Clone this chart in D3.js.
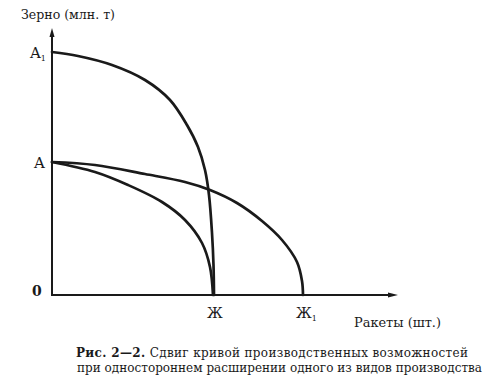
<!DOCTYPE html>
<html><head><meta charset="utf-8">
<script src="https://cdn.jsdelivr.net/npm/d3@7/dist/d3.min.js"></script>
<style>html,body{margin:0;padding:0;background:#fff}svg{display:block}</style>
</head><body>
<script>
// Data (abstract units: x = rockets, y = grain)
const curveA1Zh = [[0,243],[26,239],[60,230],[93,215],[118,195],[135,170],[146,148],[153,125],[157,100],[160,62],[161.5,30],[162,0]];
const curveAZh  = [[0,133],[43,123],[76,110],[110,93],[133,75],[150,52],[158,28],[161,0]];
const curveAZh1 = [[0,133],[43,130],[93,121],[133,113],[158,105],[185,92],[210,74],[230,55],[245,33],[250,14],[251,0]];
const yLabels = [{t:"A",s:"1",v:243},{t:"A",s:"",v:133}];
const xLabels = [{t:"Ж",s:"",v:162},{t:"Ж",s:"1",v:251}];
const yTitle = "Зерно (млн. т)";
const xTitle = "Ракеты (шт.)";
const captionBold = "Рис. 2—2.";
const caption1 = " Сдвиг кривой производственных возможностей";
const caption2 = "при одностороннем расширении одного из видов производства";

const W = 503, H = 383;
const svg = d3.select("body").append("svg").attr("width", W).attr("height", H);
svg.append("rect").attr("width", W).attr("height", H).attr("fill", "#fff");

const x = d3.scaleLinear().domain([0, 346]).range([52, 398]);
const y = d3.scaleLinear().domain([0, 267]).range([295, 28]);
const ink = "#1a1a1a";
const font = "'DejaVu Serif', 'Liberation Serif', serif";

// axes
svg.append("line").attr("x1", x(0)).attr("y1", y(0)).attr("x2", x(0)).attr("y2", y(267) + 6)
  .attr("stroke", ink).attr("stroke-width", 2);
svg.append("line").attr("x1", x(0) - 1).attr("y1", y(0)).attr("x2", x(346) - 6).attr("y2", y(0))
  .attr("stroke", ink).attr("stroke-width", 2);
svg.append("path").attr("d", `M${x(0)},${y(267)} L${x(0)-2.5},${y(267)+9} L${x(0)+2.5},${y(267)+9} Z`).attr("fill", ink);
svg.append("path").attr("d", `M${x(346)},${y(0)} L${x(346)-10},${y(0)-2.5} L${x(346)-10},${y(0)+2.5} Z`).attr("fill", ink);

// curves
const line = d3.line().x(d => x(d[0])).y(d => y(d[1])).curve(d3.curveCatmullRom.alpha(0.5));
[curveA1Zh, curveAZh, curveAZh1].forEach(c => {
  svg.append("path").attr("d", line(c)).attr("fill", "none").attr("stroke", ink)
    .attr("stroke-width", 2.7).attr("stroke-linecap", "round");
});

// y labels
yLabels.forEach(l => {
  const t = svg.append("text").attr("x", l.s ? 30 : 34).attr("y", y(l.v) + 6)
    .attr("font-family", font).attr("font-size", 15).attr("fill", ink).text(l.t);
  if (l.s) t.append("tspan").attr("dy", 3).attr("font-size", 8).text(l.s);
});
svg.append("text").attr("x", 32).attr("y", y(0) + 1).attr("font-family", font)
  .attr("font-size", 14).attr("font-weight", "bold").attr("fill", ink).text("0");

// x labels
xLabels.forEach(l => {
  const t = svg.append("text").attr("x", x(l.v) - 7).attr("y", 318)
    .attr("font-family", font).attr("font-size", 14).attr("fill", ink).text(l.t);
  if (l.s) t.append("tspan").attr("dy", 3).attr("font-size", 8).text(l.s);
});

// titles
svg.append("text").attr("x", 21).attr("y", 19).attr("font-family", font).attr("font-size", 13)
  .attr("fill", ink).attr("textLength", 94).attr("lengthAdjust", "spacingAndGlyphs").text(yTitle);
svg.append("text").attr("x", 354).attr("y", 327).attr("font-family", font).attr("font-size", 13)
  .attr("fill", ink).attr("textLength", 87).attr("lengthAdjust", "spacingAndGlyphs").text(xTitle);

// caption
const c1 = svg.append("text").attr("x", 76).attr("y", 357).attr("font-family", font)
  .attr("font-size", 12).attr("fill", ink).attr("textLength", 392).attr("lengthAdjust", "spacing");
c1.append("tspan").attr("font-weight", "bold").text(captionBold);
c1.append("tspan").text(caption1);
svg.append("text").attr("x", 77).attr("y", 372).attr("font-family", font)
  .attr("font-size", 12).attr("fill", ink).attr("textLength", 405).attr("lengthAdjust", "spacing").text(caption2);
</script>
</body></html>
